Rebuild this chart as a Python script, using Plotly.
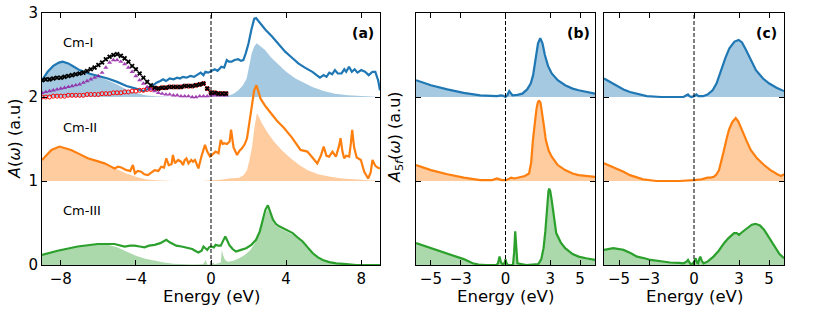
import plotly.graph_objects as go

# ---------------- Panel (a) data ----------------
cm1_line_x = [-9.0, -8.7, -8.4, -8.1, -7.9, -7.6, -7.3, -7.0, -6.5, -6.0, -5.5, -5.0, -4.5, -4.0, -3.6, -3.3, -3.1, -2.9, -2.7, -2.55, -2.4, -2.2, -2.0, -1.8, -1.65, -1.5, -1.3, -1.1, -0.9, -0.7, -0.55, -0.4, -0.3, -0.15, 0.0, 0.2, 0.35, 0.55, 0.7, 0.84, 0.95, 1.1, 1.25, 1.45, 1.6, 1.72, 1.85, 2.0, 2.15, 2.3, 2.4, 2.6, 2.9, 3.25, 3.6, 3.95, 4.3, 4.65, 5.0, 5.4, 5.8, 6.0, 6.15, 6.3, 6.45, 6.6, 6.75, 6.95, 7.1, 7.2, 7.35, 7.5, 7.65, 7.8, 8.0, 8.2, 8.4, 8.6, 8.75, 8.9, 9.0]
cm1_line_y = [2.20, 2.30, 2.37, 2.41, 2.42, 2.40, 2.36, 2.32, 2.28, 2.25, 2.22, 2.18, 2.13, 2.10, 2.07, 2.10, 2.14, 2.17, 2.19, 2.21, 2.19, 2.22, 2.21, 2.23, 2.22, 2.24, 2.23, 2.25, 2.24, 2.27, 2.29, 2.26, 2.30, 2.29, 2.31, 2.33, 2.31, 2.36, 2.35, 2.44, 2.42, 2.42, 2.44, 2.45, 2.43, 2.44, 2.52, 2.64, 2.80, 2.93, 2.94, 2.88, 2.80, 2.72, 2.63, 2.54, 2.47, 2.40, 2.35, 2.30, 2.23, 2.26, 2.24, 2.29, 2.27, 2.32, 2.28, 2.28, 2.33, 2.30, 2.36, 2.30, 2.33, 2.29, 2.32, 2.30, 2.26, 2.30, 2.30, 2.20, 2.08]
cm1_fill_x = [-9.0, -8.7, -8.4, -8.1, -7.9, -7.6, -7.3, -7.0, -6.5, -6.0, -5.5, -5.0, -4.5, -4.0, -3.5, -3.0, -2.0, 0.0, 0.5, 0.85, 1.2, 1.46, 1.7, 1.9, 2.05, 2.17, 2.3, 2.43, 2.6, 2.88, 3.2, 3.6, 4.0, 4.5, 5.0, 5.4, 6.0, 6.6, 7.3, 8.0, 9.0]
cm1_fill_y = [2.20, 2.30, 2.37, 2.41, 2.42, 2.40, 2.36, 2.32, 2.28, 2.25, 2.20, 2.15, 2.09, 2.05, 2.02, 2.01, 2.0, 2.0, 2.005, 2.01, 2.04, 2.08, 2.14, 2.22, 2.38, 2.52, 2.60, 2.64, 2.61, 2.56, 2.47, 2.38, 2.30, 2.22, 2.16, 2.12, 2.07, 2.04, 2.02, 2.01, 2.0]

cm2_line_x = [-9.0, -8.5, -8.07, -7.45, -7.0, -6.56, -6.1, -5.67, -5.4, -5.14, -4.95, -4.78, -4.6, -4.5, -4.3, -4.16, -4.05, -3.9, -3.72, -3.55, -3.36, -3.2, -3.0, -2.8, -2.65, -2.5, -2.38, -2.25, -2.1, -2.03, -1.92, -1.75, -1.6, -1.49, -1.4, -1.31, -1.2, -1.05, -0.96, -0.85, -0.67, -0.5, -0.32, -0.2, -0.05, 0.1, 0.25, 0.4, 0.52, 0.62, 0.7, 0.85, 0.99, 1.07, 1.2, 1.39, 1.52, 1.65, 1.8, 1.92, 2.05, 2.19, 2.3, 2.42, 2.52, 2.64, 2.9, 3.17, 3.5, 3.89, 4.3, 4.77, 5.13, 5.4, 5.66, 5.85, 6.0, 6.15, 6.29, 6.47, 6.65, 6.8, 6.9, 7.0, 7.09, 7.2, 7.36, 7.45, 7.52, 7.62, 7.76, 7.98, 8.16, 8.37, 8.5, 8.6, 8.75, 8.87, 9.0]
cm2_line_y = [1.25, 1.37, 1.41, 1.37, 1.32, 1.27, 1.24, 1.21, 1.18, 1.15, 1.17, 1.16, 1.14, 1.13, 1.12, 1.19, 1.09, 1.12, 1.11, 1.08, 1.07, 1.10, 1.13, 1.12, 1.17, 1.16, 1.27, 1.19, 1.20, 1.31, 1.21, 1.25, 1.23, 1.19, 1.25, 1.27, 1.21, 1.25, 1.23, 1.25, 1.15, 1.30, 1.43, 1.35, 1.29, 1.32, 1.35, 1.33, 1.49, 1.44, 1.45, 1.44, 1.47, 1.61, 1.40, 1.31, 1.36, 1.39, 1.44, 1.51, 1.70, 1.93, 2.08, 2.14, 2.07, 1.98, 1.89, 1.81, 1.72, 1.63, 1.52, 1.37, 1.35, 1.28, 1.21, 1.30, 1.41, 1.30, 1.29, 1.35, 1.29, 1.40, 1.51, 1.35, 1.27, 1.30, 1.29, 1.45, 1.61, 1.40, 1.28, 1.25, 1.11, 1.03, 1.10, 1.25, 1.18, 1.16, 1.15]
cm2_fill_x = [-9.0, -8.5, -8.07, -7.45, -7.0, -6.56, -6.1, -5.67, -5.3, -5.0, -4.5, -4.0, -3.5, -3.0, -2.0, -0.5, 0.0, 0.5, 0.97, 1.5, 1.75, 1.92, 2.05, 2.19, 2.32, 2.45, 2.7, 3.0, 3.35, 3.8, 4.24, 4.7, 5.13, 5.7, 6.37, 7.0, 7.6, 8.3, 9.0]
cm2_fill_y = [1.25, 1.37, 1.41, 1.37, 1.32, 1.27, 1.24, 1.21, 1.17, 1.14, 1.09, 1.05, 1.02, 1.01, 1.0, 1.0, 1.005, 1.015, 1.03, 1.04, 1.07, 1.13, 1.25, 1.41, 1.65, 1.81, 1.69, 1.58, 1.47, 1.36, 1.27, 1.19, 1.13, 1.08, 1.05, 1.03, 1.02, 1.01, 1.0]

cm3_line_x = [-9.0, -8.17, -7.1, -6.03, -5.14, -4.8, -4.6, -4.3, -4.07, -3.8, -3.54, -3.3, -3.0, -2.7, -2.5, -2.38, -2.2, -2.1, -1.85, -1.57, -1.3, -1.0, -0.85, -0.67, -0.5, -0.4, -0.3, -0.2, -0.1, 0.0, 0.15, 0.25, 0.4, 0.52, 0.65, 0.76, 0.87, 0.97, 1.15, 1.33, 1.6, 1.87, 2.15, 2.4, 2.6, 2.75, 2.9, 3.03, 3.15, 3.3, 3.45, 3.63, 4.0, 4.35, 4.6, 4.88, 5.15, 5.42, 5.7, 5.95, 6.3, 6.67, 7.2, 7.73, 9.0]
cm3_line_y = [0.12, 0.17, 0.22, 0.25, 0.25, 0.23, 0.22, 0.23, 0.23, 0.22, 0.21, 0.23, 0.24, 0.26, 0.28, 0.30, 0.27, 0.26, 0.23, 0.22, 0.21, 0.19, 0.17, 0.15, 0.17, 0.22, 0.20, 0.18, 0.21, 0.22, 0.21, 0.24, 0.23, 0.23, 0.29, 0.34, 0.29, 0.24, 0.19, 0.16, 0.18, 0.20, 0.24, 0.30, 0.40, 0.52, 0.66, 0.71, 0.64, 0.54, 0.49, 0.46, 0.42, 0.38, 0.33, 0.28, 0.21, 0.14, 0.09, 0.06, 0.035, 0.02, 0.01, 0.0, 0.0]
cm3_fill_x = [-9.0, -8.17, -7.1, -6.03, -5.5, -5.0, -4.6, -4.0, -3.5, -3.0, -2.5, -2.0, -1.5, -1.0, -0.45, -0.35, -0.28, -0.2, 0.0, 0.08, 0.12, 0.2, 0.4, 0.52, 0.58, 0.64, 0.75, 0.9, 1.2, 1.5, 1.8, 2.1, 2.4, 2.6, 2.75, 2.9, 3.0, 3.15, 3.3, 3.45, 3.63, 4.0, 4.35, 4.6, 4.88, 5.15, 5.42, 5.7, 5.95, 6.3, 6.67, 7.2, 7.73, 9.0]
cm3_fill_y = [0.12, 0.17, 0.22, 0.25, 0.24, 0.21, 0.17, 0.11, 0.075, 0.05, 0.03, 0.015, 0.008, 0.005, 0.008, 0.03, 0.06, 0.005, 0.005, 0.02, 0.03, 0.01, 0.02, 0.03, 0.18, 0.12, 0.06, 0.04, 0.05, 0.08, 0.12, 0.18, 0.28, 0.38, 0.50, 0.62, 0.67, 0.60, 0.51, 0.47, 0.44, 0.40, 0.36, 0.32, 0.28, 0.21, 0.14, 0.09, 0.06, 0.035, 0.02, 0.01, 0.0, 0.0]

# experimental-like marker series in Cm-I
exp_x = [-9.0, -8.8, -8.6, -8.4, -8.2, -8.0, -7.8, -7.6, -7.4, -7.2, -7.0, -6.8, -6.6, -6.4, -6.2, -6.0, -5.8, -5.6, -5.4, -5.2, -5.0, -4.8, -4.6, -4.4, -4.2, -4.0, -3.8, -3.6, -3.4, -3.2, -3.0, -2.8, -2.6, -2.4, -2.2, -2.0, -1.8, -1.6, -1.4, -1.2, -1.0, -0.8, -0.6, -0.4, -0.2, 0.0, 0.2, 0.4, 0.6, 0.8]
black_y = [2.20, 2.21, 2.21, 2.22, 2.23, 2.23, 2.24, 2.25, 2.26, 2.27, 2.28, 2.29, 2.31, 2.33, 2.35, 2.38, 2.41, 2.45, 2.48, 2.50, 2.51, 2.49, 2.46, 2.42, 2.37, 2.33, 2.28, 2.23, 2.18, 2.14, 2.11, 2.10, 2.11, 2.11, 2.12, 2.12, 2.12, 2.12, 2.13, 2.13, 2.13, 2.14, 2.15, 2.16, 2.10, 2.05, 2.05, 2.04, 2.04, 2.04]
purple_y = [2.05, 2.06, 2.07, 2.08, 2.09, 2.10, 2.11, 2.12, 2.13, 2.14, 2.15, 2.17, 2.19, 2.21, 2.23, 2.25, 2.29, 2.35, 2.41, 2.44, 2.44, 2.42, 2.39, 2.35, 2.30, 2.25, 2.20, 2.16, 2.12, 2.09, 2.07, 2.05, 2.04, 2.03, 2.03, 2.02, 2.02, 2.01, 2.01, 2.01, 2.00, 2.00, 2.01, 2.01, 2.01, 2.02, 2.02, 2.02, 2.02, 2.02]
red_y = [2.00, 2.00, 2.00, 2.01, 2.01, 2.01, 2.01, 2.02, 2.02, 2.02, 2.02, 2.02, 2.03, 2.03, 2.03, 2.03, 2.04, 2.04, 2.04, 2.05, 2.05, 2.05, 2.06, 2.06, 2.07, 2.07, 2.08, 2.08, 2.09, 2.09, 2.10, 2.10, 2.11, 2.11, 2.12, 2.12, 2.12, 2.12, 2.13, 2.13, 2.13, 2.14, 2.15, 2.16, 2.10, 2.05, 2.05, 2.04, 2.04, 2.04]

# ---------------- Panel (b) data ----------------
b1_x = [-6.0, -5.0, -3.9, -2.8, -1.7, -0.57, -0.3, -0.15, 0.0, 0.12, 0.25, 0.35, 0.47, 0.8, 1.13, 1.45, 1.69, 1.85, 2.02, 2.18, 2.33, 2.48, 2.64, 2.85, 3.1, 3.5, 4.0, 4.5, 4.9, 5.4, 6.0]
b1_y = [2.20, 2.14, 2.09, 2.05, 2.02, 2.01, 2.02, 2.015, 2.0, 2.02, 2.07, 2.05, 2.02, 2.025, 2.04, 2.09, 2.16, 2.26, 2.48, 2.64, 2.70, 2.64, 2.50, 2.37, 2.28, 2.20, 2.14, 2.10, 2.08, 2.06, 2.04]
b2_x = [-6.0, -5.0, -3.9, -2.8, -1.7, -0.9, -0.57, -0.4, -0.25, 0.05, 0.2, 0.38, 0.6, 0.9, 1.3, 1.58, 1.72, 1.84, 1.96, 2.07, 2.16, 2.24, 2.35, 2.47, 2.58, 2.7, 2.9, 3.1, 3.5, 4.0, 4.5, 4.9, 5.4, 6.0]
b2_y = [1.19, 1.13, 1.08, 1.04, 1.01, 1.01, 1.03, 1.02, 1.01, 1.01, 1.02, 1.04, 1.03, 1.04, 1.06, 1.09, 1.22, 1.49, 1.70, 1.85, 1.93, 1.96, 1.93, 1.81, 1.65, 1.49, 1.36, 1.29, 1.19, 1.13, 1.09, 1.07, 1.06, 1.05]
b3_x = [-6.0, -5.0, -3.9, -2.8, -2.2, -1.8, -1.3, -0.6, -0.5, -0.4, -0.3, -0.17, -0.05, 0.0, 0.05, 0.15, 0.5, 0.58, 0.65, 0.72, 0.8, 1.4, 2.2, 2.4, 2.55, 2.67, 2.78, 2.88, 2.93, 3.0, 3.1, 3.25, 3.4, 3.7, 4.0, 4.5, 4.9, 5.4, 6.0]
b3_y = [0.26, 0.20, 0.14, 0.07, 0.02, 0.005, 0.0, 0.0, 0.02, 0.10, 0.03, 0.0, 0.03, 0.07, 0.03, 0.0, 0.0, 0.15, 0.40, 0.20, 0.02, 0.0, 0.01, 0.07, 0.20, 0.40, 0.69, 0.88, 0.91, 0.88, 0.77, 0.55, 0.38, 0.27, 0.20, 0.13, 0.10, 0.08, 0.06]

# ---------------- Panel (c) data ----------------
c1_x = [-6.0, -5.6, -5.15, -4.7, -4.27, -3.7, -3.15, -2.2, -1.38, -0.7, -0.5, -0.4, -0.3, -0.18, 0.0, 0.16, 0.3, 0.6, 0.9, 1.24, 1.5, 1.8, 2.1, 2.36, 2.7, 2.98, 3.2, 3.47, 3.8, 4.13, 4.6, 5.02, 5.5, 6.0]
c1_y = [2.22, 2.18, 2.14, 2.09, 2.06, 2.03, 2.01, 2.0, 2.0, 2.0, 2.02, 2.03, 2.01, 2.0, 2.01, 2.03, 2.01, 2.01, 2.03, 2.08, 2.16, 2.32, 2.47, 2.58, 2.66, 2.68, 2.65, 2.56, 2.44, 2.32, 2.22, 2.16, 2.11, 2.07]
c2_x = [-6.0, -5.6, -5.15, -4.7, -4.27, -3.8, -3.4, -2.5, -1.0, 0.0, 0.5, 0.9, 1.1, 1.33, 1.5, 1.67, 1.85, 2.0, 2.17, 2.33, 2.55, 2.78, 2.95, 3.22, 3.5, 3.78, 4.2, 4.67, 5.1, 5.55, 5.8, 6.0]
c2_y = [1.21, 1.18, 1.15, 1.11, 1.07, 1.04, 1.02, 1.0, 1.0, 1.01, 1.02, 1.04, 1.04, 1.05, 1.08, 1.13, 1.25, 1.37, 1.50, 1.61, 1.70, 1.75, 1.71, 1.59, 1.48, 1.37, 1.27, 1.19, 1.13, 1.08, 1.06, 1.08]
c3_x = [-6.0, -5.7, -5.38, -5.0, -4.7, -4.2, -3.8, -3.3, -2.9, -2.2, -1.6, -1.0, -0.7, -0.5, -0.4, -0.3, -0.22, -0.05, 0.05, 0.11, 0.2, 0.27, 0.35, 0.42, 0.52, 0.64, 0.9, 1.3, 1.65, 2.0, 2.3, 2.67, 2.85, 3.0, 3.2, 3.56, 3.85, 4.1, 4.4, 4.67, 5.0, 5.35, 5.7, 6.0]
c3_y = [0.18, 0.19, 0.20, 0.19, 0.18, 0.14, 0.10, 0.08, 0.06, 0.045, 0.03, 0.025, 0.02, 0.04, 0.06, 0.03, 0.01, 0.02, 0.06, 0.08, 0.03, 0.02, 0.07, 0.10, 0.05, 0.02, 0.04, 0.10, 0.17, 0.26, 0.32, 0.38, 0.38, 0.36, 0.39, 0.44, 0.48, 0.49, 0.47, 0.42, 0.33, 0.22, 0.13, 0.08]

labels_a = ["Cm-I", "Cm-II", "Cm-III"]

BLUE = "#1f77b4"
ORANGE = "#ff7f0e"
GREEN = "#2ca02c"
FILL = {BLUE: "rgba(31,119,180,0.4)", ORANGE: "rgba(255,127,14,0.4)", GREEN: "rgba(44,160,44,0.4)"}
FONT = "DejaVu Sans"

fig = go.Figure()


def add_fill(x, y, base, color, xa, ya):
    fig.add_trace(go.Scatter(
        x=[x[0]] + list(x) + [x[-1]], y=[base] + list(y) + [base],
        mode="lines", fill="toself", fillcolor=FILL[color],
        line=dict(width=0), hoverinfo="skip", showlegend=False, xaxis=xa, yaxis=ya))


def add_line(x, y, color, xa, ya):
    fig.add_trace(go.Scatter(x=x, y=y, mode="lines", line=dict(color=color, width=2.2),
                             showlegend=False, xaxis=xa, yaxis=ya))


# Panel (a)
add_fill(cm1_fill_x, cm1_fill_y, 2, BLUE, "x", "y")
add_line(cm1_line_x, cm1_line_y, BLUE, "x", "y")
fig.add_trace(go.Scatter(x=exp_x, y=red_y, mode="markers",
                         marker=dict(symbol="circle-open", size=4, color="red", line=dict(width=1)),
                         showlegend=False, xaxis="x", yaxis="y"))
fig.add_trace(go.Scatter(x=exp_x, y=purple_y, mode="markers",
                         marker=dict(symbol="triangle-up", size=4.5, color="rgba(140,20,160,0.8)"),
                         showlegend=False, xaxis="x", yaxis="y"))
fig.add_trace(go.Scatter(x=exp_x, y=black_y, mode="markers",
                         marker=dict(symbol="x", size=4.5, color="black"),
                         showlegend=False, xaxis="x", yaxis="y"))
add_fill(cm2_fill_x, cm2_fill_y, 1, ORANGE, "x", "y")
add_line(cm2_line_x, cm2_line_y, ORANGE, "x", "y")
add_fill(cm3_fill_x, cm3_fill_y, 0, GREEN, "x", "y")
add_line(cm3_line_x, cm3_line_y, GREEN, "x", "y")

# Panel (b)
for xs, ys, base, col in [(b1_x, b1_y, 2, BLUE), (b2_x, b2_y, 1, ORANGE), (b3_x, b3_y, 0, GREEN)]:
    add_fill(xs, ys, base, col, "x2", "y2")
    add_line(xs, ys, col, "x2", "y2")

# Panel (c)
for xs, ys, base, col in [(c1_x, c1_y, 2, BLUE), (c2_x, c2_y, 1, ORANGE), (c3_x, c3_y, 0, GREEN)]:
    add_fill(xs, ys, base, col, "x3", "y3")
    add_line(xs, ys, col, "x3", "y3")

W, H = 830, 311
ytop, ybot = 13, 265
ydom = [1 - ybot / H, 1 - ytop / H]

axis_common = dict(showline=True, linecolor="black", linewidth=1, mirror="ticks",
                   ticks="inside", ticklen=5, tickwidth=1, tickcolor="black",
                   showgrid=False, zeroline=False,
                   tickfont=dict(family=FONT, size=15, color="black"))

fig.update_layout(
    width=W, height=H, margin=dict(l=0, r=0, t=0, b=0, autoexpand=False),
    paper_bgcolor="white", plot_bgcolor="white",
    xaxis=dict(domain=[42 / W, 380 / W], range=[-9, 9], tickvals=[-8, -4, 0, 4, 8], anchor="y", **axis_common),
    yaxis=dict(domain=ydom, range=[0, 3], tickvals=[0, 1, 2, 3], anchor="x", **axis_common),
    xaxis2=dict(domain=[416 / W, 595 / W], range=[-6, 6], tickvals=[-5, -3, 0, 3, 5], anchor="y2", **axis_common),
    yaxis2=dict(domain=ydom, range=[0, 3], tickvals=[0, 1, 2, 3], showticklabels=False, anchor="x2", **axis_common),
    xaxis3=dict(domain=[604 / W, 784 / W], range=[-6, 6], tickvals=[-5, -3, 0, 3, 5], anchor="y3", **axis_common),
    yaxis3=dict(domain=ydom, range=[0, 3], tickvals=[0, 1, 2, 3], showticklabels=False, anchor="x3", **axis_common),
)

# dashed Fermi-level lines
for xr, yr in [("x", "y"), ("x2", "y2"), ("x3", "y3")]:
    fig.add_shape(type="line", xref=xr, yref=yr, x0=0, x1=0, y0=0, y1=3,
                  line=dict(color="black", width=1, dash="4px,2px"))

ann = []
for lab, ypx in zip(labels_a, [43, 127, 210]):
    ann.append(dict(text=lab, x=61 / W, y=1 - ypx / H, xref="paper", yref="paper",
                    xanchor="left", yanchor="middle", showarrow=False,
                    font=dict(family=FONT, size=13, color="black")))
for lab, xr in [("(a)", 376), ("(b)", 592), ("(c)", 779)]:
    ann.append(dict(text="<b>" + lab + "</b>", x=xr / W, y=1 - 33 / H, xref="paper", yref="paper",
                    xanchor="right", yanchor="middle", showarrow=False,
                    font=dict(family=FONT, size=14, color="black")))
for xc in [211, 505, 694]:
    ann.append(dict(text="Energy (eV)", x=xc / W, y=1 - 296 / H, xref="paper", yref="paper",
                    xanchor="center", yanchor="middle", showarrow=False,
                    font=dict(family=FONT, size=16.5, color="black")))
ann.append(dict(text="<i>A</i>(<i>ω</i>) (a.u)", x=14 / W, y=1 - 139 / H, xref="paper", yref="paper",
                xanchor="center", yanchor="middle", textangle=-90, showarrow=False,
                font=dict(family=FONT, size=16, color="black")))
ann.append(dict(text="<i>A</i><sub>5<i>f</i></sub>(<i>ω</i>) (a.u)", x=395 / W, y=1 - 137 / H, xref="paper", yref="paper",
                xanchor="center", yanchor="middle", textangle=-90, showarrow=False,
                font=dict(family=FONT, size=16, color="black")))
fig.update_layout(annotations=ann)

fig.write_html("out.html", config={"displayModeBar": False},
               post_script="document.body.style.margin='0px';")
